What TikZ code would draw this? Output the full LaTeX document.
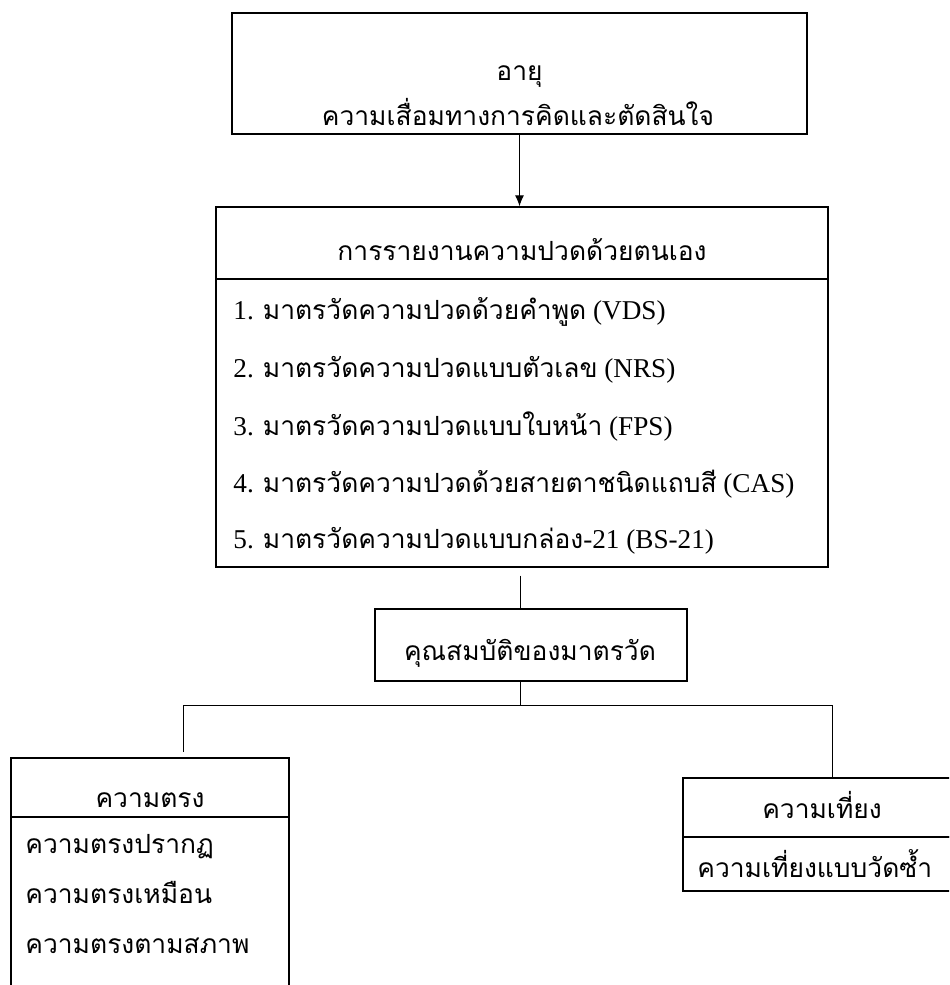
\documentclass[tikz,border=0pt]{standalone}
\usepackage{fontspec}
\setmainfont{Liberation Serif}
\newfontfamily\thaifont[Script=Thai]{Loma}
\newcommand{\thtxt}[1]{{\thaifont\fontsize{13.2}{16}\selectfont #1}}
\usetikzlibrary{arrows.meta,positioning}
\tikzset{
  box/.style={
    draw,
    rectangle,
    line width=0.7pt,
    inner sep=0pt
  },
  thlabel/.style={
    anchor=base,
    inner sep=0pt,
    font=\thaifont\fontsize{13.2}{16}\selectfont
  },
  item/.style={
    anchor=base west,
    inner sep=0pt,
    font=\fontsize{13.6}{16}\selectfont
  },
  link/.style={
    line width=0.5pt
  },
  arrow/.style={
    link,
    -{Latex[length=5.5pt,width=4.5pt]}
  }
}

\begin{document}
\begin{tikzpicture}[x=0.5pt,y=-0.5pt]
    \useasboundingbox (0,0) rectangle (949,985);
    \clip (0,0) rectangle (949,985);
    %-------------------------
    %อายุ
    %-------------------------
    \node[box,minimum width=287.5pt,minimum height=60.5pt] (age) at (519.5,73.5) {};
    \node[thlabel] (agea) at (519.5,80) {อายุ};
    \node[thlabel] (ageb) at (518,125) {ความเสื่อมทางการคิดและตัดสินใจ};

    %-------------------------
    %การรายงานความปวด
    %-------------------------
    \node[box,minimum width=306pt,minimum height=36pt] (report) at (522,243) {};
    \node[box,minimum width=306pt,minimum height=144pt] (list) at (522,423) {};
    \node[thlabel] (reporttitle) at (522,260) {การรายงานความปวดด้วยตนเอง};
    \node[item] (vds) at (233,319) {1. \thtxt{มาตรวัดความปวดด้วยคำพูด} (VDS)};
    \node[item] (nrs) at (233,377) {2. \thtxt{มาตรวัดความปวดแบบตัวเลข} (NRS)};
    \node[item] (fps) at (233,435) {3. \thtxt{มาตรวัดความปวดแบบใบหน้า} (FPS)};
    \node[item] (cas) at (233,492) {4. \thtxt{มาตรวัดความปวดด้วยสายตาชนิดแถบสี} (CAS)};
    \node[item] (bs) at (233,548) {5. \thtxt{มาตรวัดความปวดแบบกล่อง}-21 (BS-21)};

    %-------------------------
    %คุณสมบัติ
    %-------------------------
    \node[box,minimum width=156pt,minimum height=36pt] (quality) at (531,645) {};
    \node[thlabel] (qualitytitle) at (530,660) {คุณสมบัติของมาตรวัด};

    %-------------------------
    %ความตรง
    %-------------------------
    \node[box,minimum width=139pt,minimum height=29.5pt] (valid) at (150,787.5) {};
    \node[box,minimum width=139pt,minimum height=91.5pt] (validlist) at (150,908.5) {};
    \node[thlabel] (validtitle) at (150,807) {ความตรง};
    \node[thlabel,anchor=base west] (face) at (25,853) {ความตรงปรากฏ};
    \node[thlabel,anchor=base west] (conc) at (25,903) {ความตรงเหมือน};
    \node[thlabel,anchor=base west] (constr) at (25,953) {ความตรงตามสภาพ};

    %-------------------------
    %ความเที่ยง
    %-------------------------
    \node[box,minimum width=137.5pt,minimum height=29.5pt] (reli) at (820.5,807.5) {};
    \node[box,minimum width=137.5pt,minimum height=27pt] (relilist) at (820.5,864) {};
    \node[thlabel] (relititle) at (822,818) {ความเที่ยง};
    \node[thlabel,anchor=base west] (retest) at (697,877) {ความเที่ยงแบบวัดซ้ำ};

    %-------------------------
    %เส้นเชื่อม
    %-------------------------
    \coordinate (split) at (520,705);
    \coordinate (splitL) at (183,705);
    \coordinate (splitR) at (832,705);

    \draw[arrow] (age.south) -- (age.south |- report.north);
    \draw[link,shorten <=4pt] (list.south -| split) -- (quality.north -| split);
    \draw[link] (quality.south -| split) -- (split);
    \draw[link] (splitL) -- (splitR);
    \draw[link,shorten >=2.5pt] (splitL) -- (splitL |- valid.north);
    \draw[link] (splitR) -- (splitR |- reli.north);

    \end{tikzpicture}
\end{document}
